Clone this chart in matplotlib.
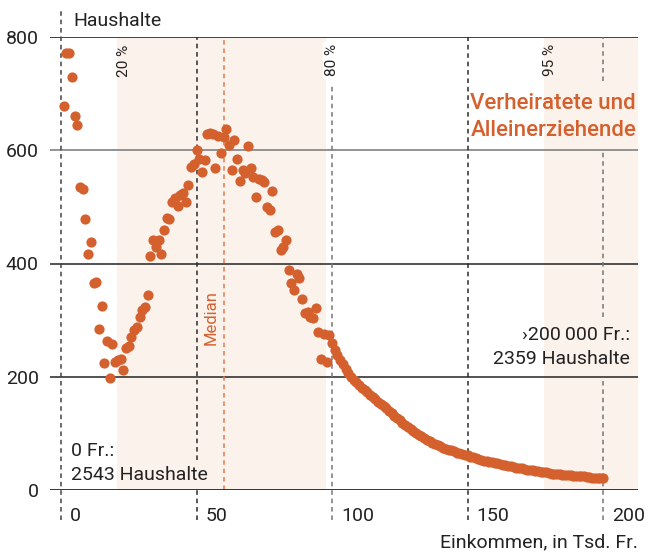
import numpy as np
import matplotlib.pyplot as plt
from matplotlib.transforms import ScaledTranslation

plt.rcParams['font.family'] = ['Roboto', 'DejaVu Sans']

# Einkommen in Tsd. Fr. (Klassen 1..200) und Anzahl Haushalte je Klasse
income = list(range(1, 201))
households = [
    678, 772, 772, 729, 661, 645, 535, 531, 479, 417,
    438, 365, 368, 285, 325, 225, 263, 197, 258, 226,
    229, 232, 212, 250, 254, 271, 282, 288, 305, 318,
    323, 345, 413, 441, 430, 442, 416, 460, 481, 478,
    509, 515, 501, 521, 524, 509, 538, 571, 576, 600,
    585, 562, 582, 629, 630, 628, 568, 626, 596, 623,
    638, 609, 566, 618, 585, 545, 565, 559, 607, 568,
    553, 518, 550, 547, 544, 500, 494, 528, 456, 459,
    424, 429, 441, 388, 365, 353, 382, 375, 338, 312,
    315, 306, 303, 322, 279, 232, 276, 226, 274, 259,
    247, 238, 229, 222, 214, 207, 200, 195, 190, 186,
    181, 177, 173, 168, 164, 160, 156, 152, 148, 144,
    140, 136, 131, 127, 123, 119, 115, 112, 108, 105,
    101, 98, 95, 92, 89, 86, 83, 81, 79, 77,
    75, 73, 71, 70, 68, 66, 65, 63, 62, 61,
    59, 58, 56, 55, 53, 52, 51, 50, 49, 48,
    47, 46, 45, 44, 43, 42, 41, 39, 38, 38,
    37, 36, 35, 35, 34, 33, 32, 31, 31, 30,
    29, 29, 28, 28, 27, 27, 26, 26, 25, 25,
    24, 24, 24, 23, 23, 22, 22, 22, 21, 21,
]

p20, p80, p95 = 20.7, 97.8, 178.2
median = 60
xticks = [0, 50, 100, 150, 200]
yticks = [0, 200, 400, 600, 800]

orange = '#D4602E'
band = '#FBF2EC'
dark = '#2b2b2b'
fs = 14

fig = plt.figure(figsize=(6.52, 5.56), dpi=100)
ax = fig.add_axes([50 / 652, 1 - 490 / 556, 588 / 652, 453 / 556])
ax.set_xlim(-4.06, 212.9)
ax.set_ylim(0, 800)
for s in ax.spines.values():
    s.set_visible(False)

# Perzentil-Bereiche
ax.axvspan(p20, p80, color=band, lw=0, zorder=0)
ax.axvspan(p95, 212.9, color=band, lw=0, zorder=0)

# horizontale Linien
grid_colors = {200: '#444444', 400: '#444444', 600: '#8a8a8a', 800: '#333333'}
for y, c in grid_colors.items():
    ax.axhline(y, color=c, lw=1.3, zorder=1)
ax.axhline(0, color='#222222', lw=2, zorder=3)

# gestrichelte Senkrechte
dash = (0, (3, 2.5))
segments = {
    0: ([(-53, 850)], '#444444'),
    50: ([(53, 800), (-53, 0)], dark),
    100: ([(-53, 718)], '#777777'),
    150: ([(-53, 800)], dark),
    200: ([(723, 800), (305, 600), (-53, 199)], '#777777'),
}
for x, (parts, c) in segments.items():
    for y0, y1 in parts:
        ax.plot([x, x], [y0, y1], color=c, lw=1.1, ls=dash, clip_on=False, zorder=2)
ax.plot([median, median], [0, 800], color='#DE7B52', lw=1.1, ls=dash, zorder=2)

ax.scatter(income, households, s=54, color=orange, lw=0, zorder=4)

# Achsenbeschriftung
ax.set_yticks(yticks, [str(v) for v in yticks])
ax.set_xticks(xticks, [str(v) for v in xticks])
ax.tick_params(axis='y', length=0, pad=8, labelsize=fs, labelcolor='#222222')
ax.tick_params(axis='x', length=0, pad=12, labelsize=fs, labelcolor='#222222')
offset = ScaledTranslation(9 / 100, 0, fig.dpi_scale_trans)
for lab in ax.get_xticklabels():
    lab.set_ha('left')
    lab.set_transform(lab.get_transform() + offset)

txt = dict(fontsize=fs, color='#222222', clip_on=False)
ax.text(4.4, 819, 'Haushalte', va='baseline', **txt)
ax.text(212.9, -100.6, 'Einkommen, in Tsd. Fr.', ha='right', va='baseline', **txt)

pct = dict(fontsize=11, color='#222222', rotation=90, ha='center', va='top')
ax.text(p20 + 2.4, 787, '20 %', **pct)
ax.text(p80 + 2.2, 787, '80 %', bbox=dict(fc='white', ec='none', pad=1.5), **pct)
ax.text(p95 + 2.2, 787, '95 %', **pct)
ax.text(median - 4.6, 256, 'Median', fontsize=12, color=orange,
        rotation=90, ha='center', va='bottom')

ax.text(212.2, 672, 'Verheiratete und', fontsize=16, fontweight='medium',
        color=orange, ha='right', va='baseline')
ax.text(212.2, 626, 'Alleinerziehende', fontsize=16, fontweight='medium',
        color=orange, ha='right', va='baseline')

ax.text(210, 265, '\u203a200\u2009000 Fr.:', ha='right', va='baseline', **txt)
ax.text(210, 222, '2359 Haushalte', ha='right', va='baseline', **txt)
ax.text(3.7, 60, '0 Fr.:', va='baseline', **txt)
ax.text(3.7, 17.6, '2543 Haushalte', va='baseline', **txt)

fig.savefig('out.png', dpi=100)
